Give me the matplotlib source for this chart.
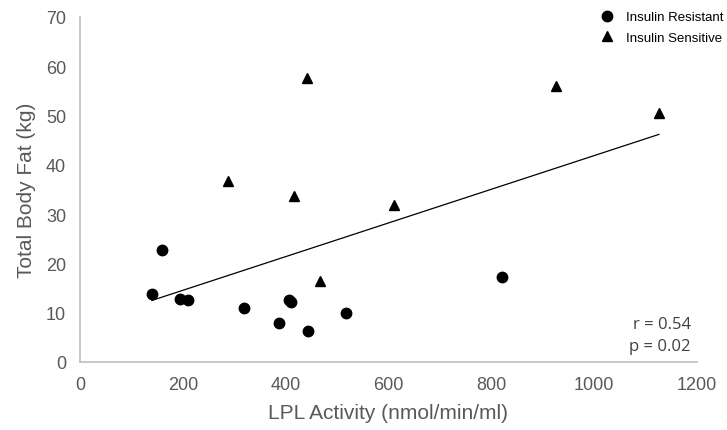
import matplotlib.pyplot as plt
import numpy as np

# Insulin resistant subjects (circles)
ir_lpl = [140, 160, 195, 211, 318, 387, 407, 411, 444, 517, 820]
ir_fat = [13.8, 22.8, 12.8, 12.6, 10.9, 8.0, 12.6, 12.1, 6.2, 9.9, 17.2]

# Insulin sensitive subjects (triangles)
is_lpl = [287, 416, 442, 467, 611, 926, 1126]
is_fat = [36.8, 33.7, 57.7, 16.5, 31.8, 55.9, 50.6]

xticks = [0, 200, 400, 600, 800, 1000, 1200]
yticks = [0, 10, 20, 30, 40, 50, 60, 70]

plt.rcParams['font.family'] = ['Liberation Sans', 'DejaVu Sans']
grey = '#595959'

fig = plt.figure(figsize=(7.27, 4.31), dpi=100)
ax = fig.add_axes([80/727, 1 - 363/431, 617/727, 345/431])

ax.plot(ir_lpl, ir_fat, 'o', color='black', markersize=7.5, label='Insulin Resistant', zorder=3)
ax.plot(is_lpl, is_fat, '^', color='black', markersize=7, label='Insulin Sensitive', zorder=3)

# linear trend over all subjects
all_x = np.array(ir_lpl + is_lpl)
all_y = np.array(ir_fat + is_fat)
k, b = np.polyfit(all_x, all_y, 1)
xs = np.array([all_x.min(), all_x.max()])
ax.plot(xs, k * xs + b, color='black', linewidth=0.9, zorder=2)

ax.set_xlim(0, 1200)
ax.set_ylim(0, 70)
ax.set_xticks(xticks)
ax.set_yticks(yticks)
ax.tick_params(length=0, labelsize=13, labelcolor=grey, pad=10)
for s in ['top', 'right']:
    ax.spines[s].set_visible(False)
for s in ['left', 'bottom']:
    ax.spines[s].set_color('#bfbfbf')
    ax.spines[s].set_linewidth(1.2)

ax.set_xlabel('LPL Activity (nmol/min/ml)', fontsize=15, color=grey, labelpad=7)
ax.set_ylabel('Total Body Fat (kg)', fontsize=15, color=grey, labelpad=7)

ax.text(0.99, 0.11, 'r = 0.54', transform=ax.transAxes, ha='right', va='center',
        fontsize=12, color='#404040', family=['Open Sans', 'DejaVu Sans'])
ax.text(0.99, 0.045, 'p = 0.02', transform=ax.transAxes, ha='right', va='center',
        fontsize=12, color='#404040', family=['Open Sans', 'DejaVu Sans'])

leg = fig.legend(loc='upper left', bbox_to_anchor=(600/727, 1 - 12/431), frameon=False,
                 fontsize=9.5, borderpad=0, borderaxespad=0, handletextpad=1.0,
                 labelspacing=0.65, handlelength=1)

plt.savefig('out.png', dpi=100)
